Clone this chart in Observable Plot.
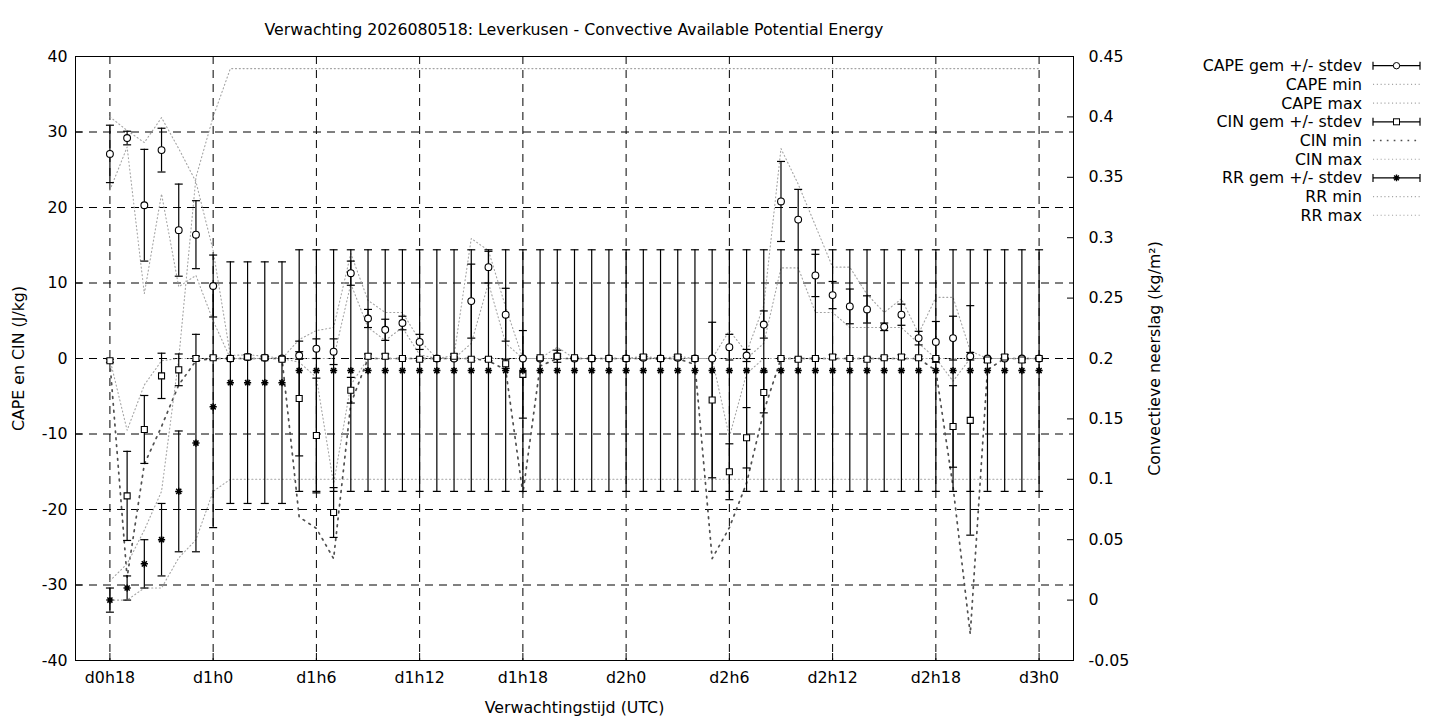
<!DOCTYPE html>
<html>
<head>
<meta charset="utf-8">
<script src="https://cdn.jsdelivr.net/npm/d3@7"></script>
<script src="https://cdn.jsdelivr.net/npm/@observablehq/plot@0.6"></script>
<style>
  body { margin: 0; background: #fff; }
  #wrap { position: relative; width: 1440px; height: 720px; font-family: 'DejaVu Sans', sans-serif; color: #000; }
  #title { position: absolute; left: 0; top: 20px; width: 1148px; text-align: center; font-size: 15.8px; line-height: 19px; white-space: nowrap; }
  #legend { position: absolute; left: 1180px; top: 50px; }
</style>
</head>
<body>
<div id="wrap">
  <div id="chart"></div>
  <div id="title"></div>
  <svg id="legend" width="260" height="185"></svg>
</div>
<script>
const titleText = "Verwachting 2026080518: Leverkusen - Convective Available Potential Energy";
const xLabel = "Verwachtingstijd (UTC)";
const yLabel = "CAPE en CIN (J/kg)";
const y2Label = "Convectieve neerslag (kg/m²)";

// forecast hour since d0h0
const hours = [18,19,20,21,22,23,24,25,26,27,28,29,30,31,32,33,34,35,36,37,38,39,40,41,42,43,44,45,46,47,48,49,50,51,52,53,54,55,56,57,58,59,60,61,62,63,64,65,66,67,68,69,70,71,72];

// CAPE (J/kg)
const capeMean = [27.1,29.2,20.3,27.6,17.0,16.4,9.6,
  0.0,0.2,0.1,0.0,0.4,1.3,0.9,11.3,5.3,3.8,4.7,2.2,
  0.0,0.0,7.6,12.1,5.8,0.0,0.0,0.3,0.0,0.0,0.0,0.0,
  0.1,0.0,0.1,0.0,0.0,1.5,0.4,4.5,20.8,18.4,11.0,8.4,
  6.9,6.5,4.2,5.8,2.7,2.2,2.7,0.3,0.0,0.0,0.0,0.0];
const capeSd = [3.8,0.9,7.4,2.9,6.1,4.5,4.1,
  0.0,0.3,0.2,0.0,0.5,1.3,1.7,1.6,1.2,1.4,0.9,1.0,
  0.0,0.2,4.9,2.1,3.5,0.0,0.0,0.8,0.0,0.0,0.0,0.0,
  0.2,0.0,0.2,0.0,0.0,1.7,0.8,1.8,5.3,4.0,2.8,1.8,
  2.3,1.8,0.5,1.4,0.9,2.7,2.9,0.5,0.0,0.0,0.0,0.0];
const capeMin = [22.3,28.0,8.6,21.8,9.5,11.0,5.0,
  0,0,0,0,0,0,0,9.9,4.1,2.4,4.1,0.5,
  0,0,2.0,10.0,2.0,0,0,0,0,0,0,0,
  0,0,0,0,0,0,0,2.0,12.0,12.0,6.1,6.1,
  4.1,4.1,4.1,4.1,2.0,0,0,0,0,0,0,0];
const capeMax = [32.0,30.2,28.6,31.9,27.8,23.4,14.3,
  0.4,0.5,0.3,0,2.5,3.7,4.1,13.9,7.7,6.1,6.1,2.4,
  0,0.4,15.9,14.3,6.8,0,0,1.5,0,0,0,0,
  0.3,0,0.3,0,0,3.7,0.8,7.0,27.8,23.1,17.6,12.1,
  12.1,8.5,6.1,7.9,3.3,8.1,8.1,1.0,0,0,0,0];

// CIN (J/kg)
const cinMean = [-0.3,-18.2,-9.4,-2.3,-1.5,0.0,0.1,
  0.0,0.2,0.1,-0.1,-5.3,-10.2,-20.4,-4.2,0.3,0.3,0.0,-0.1,
  0.0,0.3,-0.1,-0.1,-0.7,-2.1,0.1,0.3,0.1,0.0,0.0,0.0,
  0.2,0.0,0.2,0.0,-5.5,-15.0,-10.5,-4.5,0.0,-0.1,0.0,0.2,
  0.0,-0.1,0.1,0.2,0.1,0.0,-9.0,-8.2,-0.2,0.2,-0.2,0.0];
const cinSd = [0.2,5.9,4.5,3.0,2.1,0.3,0.2,
  0.1,0.3,0.2,0.2,7.6,7.6,3.3,1.7,0.3,0.3,0.1,0.2,
  0.1,0.3,0.2,0.2,0.6,5.8,0.1,0.3,0.1,0.1,0.1,0.1,
  0.3,0.1,0.3,0.1,10.3,3.7,4.0,2.7,0.1,0.2,0.1,0.3,
  0.1,0.2,0.2,0.3,0.2,0.1,5.4,15.2,0.3,0.3,0.3,0.1];
const cinMin = [-0.5,-29.0,-14.0,-9.0,-3.5,-0.3,0,
  0,0,0,0,-21.0,-22.5,-26.5,-6.0,0,0,0,0,
  0,0,0,-0.3,-1.5,-17.9,-1.0,0,0,0,0,0,
  0,0,0,-0.8,-26.5,-22.4,-16.5,-7.0,0,0,0,0,
  0,0,0,0,0,-1.6,-17.0,-36.5,-1.5,0,0,0];
const cinMax = [-0.1,-9.5,-3.5,-0.3,0,0,0,
  0,0,0,0,-0.5,-2.5,-16.6,-3.5,0,0,0,0,
  0,0,0,0,0,0,0,0,0,0,0,0,
  0,0,0,0,0,-10.4,-2.0,0,0,0,0,0,
  0,0,0,0,0,0,-3.0,0,0,0,0,0];

// Convective precipitation RR (kg/m2), right axis
const rrMean = [0.00,0.01,0.03,0.05,0.09,0.13,0.16,
  0.18,0.18,0.18,0.18,0.19,0.19,0.19,0.19,0.19,0.19,0.19,0.19,
  0.19,0.19,0.19,0.19,0.19,0.19,0.19,0.19,0.19,0.19,0.19,0.19,
  0.19,0.19,0.19,0.19,0.19,0.19,0.19,0.19,0.19,0.19,0.19,0.19,
  0.19,0.19,0.19,0.19,0.19,0.19,0.19,0.19,0.19,0.19,0.19,0.19];
const rrSd = [0.01,0.01,0.02,0.03,0.05,0.09,0.10,
  0.10,0.10,0.10,0.10,0.10,0.10,0.10,0.10,0.10,0.10,0.10,0.10,
  0.10,0.10,0.10,0.10,0.10,0.10,0.10,0.10,0.10,0.10,0.10,0.10,
  0.10,0.10,0.10,0.10,0.10,0.10,0.10,0.10,0.10,0.10,0.10,0.10,
  0.10,0.10,0.10,0.10,0.10,0.10,0.10,0.10,0.10,0.10,0.10,0.10];
const rrMin = [0.0,0.0,0.01,0.01,0.035,0.05,0.09,
  0.10,0.10,0.10,0.10,0.10,0.10,0.10,0.10,0.10,0.10,0.10,0.10,
  0.10,0.10,0.10,0.10,0.10,0.10,0.10,0.10,0.10,0.10,0.10,0.10,
  0.10,0.10,0.10,0.10,0.10,0.10,0.10,0.10,0.10,0.10,0.10,0.10,
  0.10,0.10,0.10,0.10,0.10,0.10,0.10,0.10,0.10,0.10,0.10,0.10];
const rrMax = [0.016,0.03,0.058,0.09,0.20,0.35,0.40,
  0.44,0.44,0.44,0.44,0.44,0.44,0.44,0.44,0.44,0.44,0.44,0.44,
  0.44,0.44,0.44,0.44,0.44,0.44,0.44,0.44,0.44,0.44,0.44,0.44,
  0.44,0.44,0.44,0.44,0.44,0.44,0.44,0.44,0.44,0.44,0.44,0.44,
  0.44,0.44,0.44,0.44,0.44,0.44,0.44,0.44,0.44,0.44,0.44,0.44];

// axes
const xTicks = [18,24,30,36,42,48,54,60,66,72];
const xTickLabels = ["d0h18","d1h0","d1h6","d1h12","d1h18","d2h0","d2h6","d2h12","d2h18","d3h0"];
const leftTicks = [-40,-30,-20,-10,0,10,20,30,40];
const leftTickLabels = ["-40","-30","-20","-10","0","10","20","30","40"];
const gridY = [-30,-20,-10,0,10,20,30];
const rrTicks = [-0.05,0,0.05,0.1,0.15,0.2,0.25,0.3,0.35,0.4,0.45];
const rrTickLabels = ["-0.05","0","0.05","0.1","0.15","0.2","0.25","0.3","0.35","0.4","0.45"];

// right axis (-0.05..0.45) shares the left axis (-40..40)
const rrToLeft = r => (r - 0.2) * 160;

const rows = hours.map((h, i) => ({
  h,
  cm: capeMean[i], cs: capeSd[i], cmin: capeMin[i], cmax: capeMax[i],
  nm: cinMean[i], ns: cinSd[i], nmin: cinMin[i], nmax: cinMax[i],
  rm: rrToLeft(rrMean[i]), rlo: rrToLeft(rrMean[i] - rrSd[i]), rhi: rrToLeft(rrMean[i] + rrSd[i]),
  rmin: rrToLeft(rrMin[i]), rmax: rrToLeft(rrMax[i])
}));

const capSymbol = {draw(ctx, size) { const r = Math.sqrt(size / Math.PI); ctx.moveTo(-r, 0); ctx.lineTo(r, 0); }};
const starSymbol = {draw(ctx, size) {
  const r = Math.sqrt(size / Math.PI), d = r * Math.SQRT1_2;
  ctx.moveTo(-r, 0); ctx.lineTo(r, 0); ctx.moveTo(0, -r); ctx.lineTo(0, r);
  ctx.moveTo(-d, -d); ctx.lineTo(d, d); ctx.moveTo(-d, d); ctx.lineTo(d, -d);
}};

const FONT = "'DejaVu Sans', sans-serif";
const FS = 15.8;
const light = {stroke: "#a4a4a4", strokeWidth: 1.1, strokeDasharray: "1.1,2.7"};
const dark = {stroke: "#505050", strokeWidth: 1.7, strokeDasharray: "1.7,5.2"};
const barStyle = {stroke: "black", strokeWidth: 1.2};
const capR = 4;

function errMarks(lo, hi) {
  return [
    Plot.ruleX(rows, {x: "h", y1: lo, y2: hi, ...barStyle}),
    Plot.dot(rows, {x: "h", y: lo, symbol: capSymbol, r: capR, fill: "none", ...barStyle}),
    Plot.dot(rows, {x: "h", y: hi, symbol: capSymbol, r: capR, fill: "none", ...barStyle})
  ];
}

const rrTickMap = new Map(rrTicks.map((r, i) => [rrToLeft(r), rrTickLabels[i]]));

const chart = Plot.plot({
  width: 1440,
  height: 720,
  marginLeft: 75,
  marginRight: 367,
  marginTop: 56,
  marginBottom: 60,
  style: {fontFamily: FONT, fontSize: FS + "px", background: "white", color: "black", overflow: "visible"},
  x: {domain: [16, 74]},
  y: {domain: [-40, 40]},
  marks: [
    Plot.ruleY(gridY, {stroke: "black", strokeWidth: 1, strokeDasharray: "8,6"}),
    Plot.ruleX(xTicks, {stroke: "black", strokeWidth: 1, strokeDasharray: "8,6"}),
    Plot.line(rows, {x: "h", y: "cmin", ...light}),
    Plot.line(rows, {x: "h", y: "cmax", ...light}),
    Plot.line(rows, {x: "h", y: "nmin", ...dark}),
    Plot.line(rows, {x: "h", y: "nmax", ...light}),
    Plot.line(rows, {x: "h", y: "rmin", ...light}),
    Plot.line(rows, {x: "h", y: "rmax", ...light}),
    ...errMarks(d => d.cm - d.cs, d => d.cm + d.cs),
    ...errMarks(d => d.nm - d.ns, d => d.nm + d.ns),
    ...errMarks("rlo", "rhi"),
    Plot.dot(rows, {x: "h", y: "cm", r: 3.4, symbol: "circle", fill: "white", stroke: "black", strokeWidth: 1.1}),
    Plot.dot(rows, {x: "h", y: "nm", r: 3.4, symbol: "square", fill: "white", stroke: "black", strokeWidth: 1.1}),
    Plot.dot(rows, {x: "h", y: "rm", r: 3.6, symbol: starSymbol, fill: "none", stroke: "black", strokeWidth: 1.5}),
    Plot.axisX({ticks: xTicks, tickFormat: d => xTickLabels[xTicks.indexOf(d)], tickSize: -7, tickPadding: 18, label: null}),
    Plot.axisY({ticks: leftTicks, tickFormat: d => leftTickLabels[leftTicks.indexOf(d)], tickSize: -7, tickPadding: 15, label: null}),
    Plot.axisY(rrTicks.map(rrToLeft), {anchor: "right", tickFormat: d => rrTickMap.get(d), tickSize: -7, tickPadding: 22, label: null}),
    Plot.text([xLabel], {text: d => d, frameAnchor: "bottom", dy: 47, lineAnchor: "middle", textAnchor: "middle", fill: "black"}),
    Plot.text([yLabel], {text: d => d, frameAnchor: "left", dx: -57, rotate: -90, lineAnchor: "middle", textAnchor: "middle", fill: "black"}),
    Plot.text([y2Label], {text: d => d, frameAnchor: "right", dx: 81, rotate: -90, lineAnchor: "middle", textAnchor: "middle", fill: "black"}),
    Plot.frame({stroke: "black", strokeWidth: 1})
  ]
});
document.getElementById("chart").appendChild(chart);
document.getElementById("title").textContent = titleText;

// legend
const legendItems = [
  {label: "CAPE gem +/- stdev", kind: "err", sym: "circle"},
  {label: "CAPE min", kind: "line", st: light},
  {label: "CAPE max", kind: "line", st: light},
  {label: "CIN gem +/- stdev", kind: "err", sym: "square"},
  {label: "CIN min", kind: "line", st: dark},
  {label: "CIN max", kind: "line", st: light},
  {label: "RR gem +/- stdev", kind: "err", sym: "star"},
  {label: "RR min", kind: "line", st: light},
  {label: "RR max", kind: "line", st: light}
];
const lg = d3.select("#legend");
const lx0 = 193, lx1 = 240, ltx = 182;
legendItems.forEach((it, i) => {
  const y = 15.7 + 18.7 * i;
  lg.append("text").attr("x", ltx).attr("y", y).attr("dy", "0.35em").attr("text-anchor", "end")
    .attr("font-family", FONT).attr("font-size", FS + "px").text(it.label);
  if (it.kind === "line") {
    lg.append("line").attr("x1", lx0).attr("x2", lx1).attr("y1", y).attr("y2", y)
      .attr("stroke", it.st.stroke).attr("stroke-width", it.st.strokeWidth).attr("stroke-dasharray", it.st.strokeDasharray);
  } else {
    lg.append("line").attr("x1", lx0).attr("x2", lx1).attr("y1", y).attr("y2", y).attr("stroke", "black").attr("stroke-width", 1.2);
    lg.append("line").attr("x1", lx0).attr("x2", lx0).attr("y1", y - 4).attr("y2", y + 4).attr("stroke", "black").attr("stroke-width", 1.2);
    lg.append("line").attr("x1", lx1).attr("x2", lx1).attr("y1", y - 4).attr("y2", y + 4).attr("stroke", "black").attr("stroke-width", 1.2);
    const cx = (lx0 + lx1) / 2;
    if (it.sym === "circle") lg.append("circle").attr("cx", cx).attr("cy", y).attr("r", 3.2).attr("fill", "white").attr("stroke", "black");
    else if (it.sym === "square") lg.append("rect").attr("x", cx - 3).attr("y", y - 3).attr("width", 6).attr("height", 6).attr("fill", "white").attr("stroke", "black");
    else {
      const p = d3.path(); starSymbol.draw(p, Math.PI * 3.4 * 3.4);
      lg.append("path").attr("transform", `translate(${cx},${y})`).attr("d", p.toString()).attr("fill", "none").attr("stroke", "black").attr("stroke-width", 1.4);
    }
  }
});
</script>
</body>
</html>
